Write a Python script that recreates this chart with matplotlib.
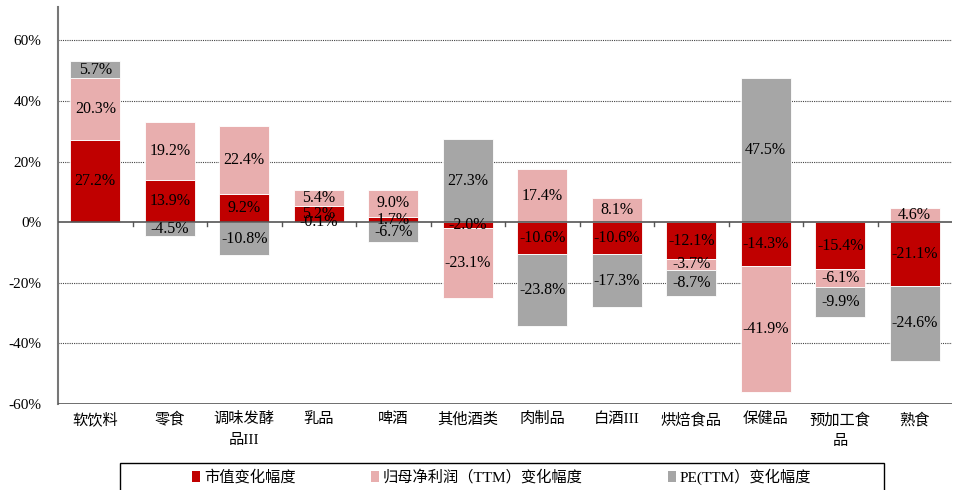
import matplotlib
matplotlib.use("Agg")
import matplotlib.pyplot as plt
from matplotlib.patches import Rectangle
import numpy as np

plt.rcParams['font.family'] = ['Liberation Serif', 'Noto Sans CJK SC', 'DejaVu Sans']

categories = ['软饮料', '零食', '调味发酵\n品III', '乳品', '啤酒', '其他酒类',
              '肉制品', '白酒III', '烘焙食品', '保健品', '预加工食\n品', '熟食']
mktcap_chg = [27.2, 13.9, 9.2, 5.2, 1.7, -2.0, -10.6, -10.6, -12.1, -14.3, -15.4, -21.1]
profit_chg = [20.3, 19.2, 22.4, 5.4, 9.0, -23.1, 17.4, 8.1, -3.7, -41.9, -6.1, 4.6]
pe_chg = [5.7, -4.5, -10.8, -0.1, -6.7, 27.3, -23.8, -17.3, -8.7, 47.5, -9.9, -24.6]

series_names = ['市值变化幅度', '归母净利润（TTM）变化幅度', 'PE(TTM）变化幅度']
series_colors = ['#C00000', '#E8AEAE', '#A6A6A6']
yticks = [-60, -40, -20, 0, 20, 40, 60]

W, H = 955, 490
fig = plt.figure(figsize=(W / 100, H / 100), dpi=100)
ax = fig.add_axes([58 / W, (H - 404) / H, (952 - 58) / W, (404 - 7) / H])

x = np.arange(len(categories))
pos_base = np.zeros(len(categories))
neg_base = np.zeros(len(categories))
width = 0.67

for vals, color in zip([mktcap_chg, profit_chg, pe_chg], series_colors):
    v = np.array(vals, dtype=float)
    bottoms = np.where(v >= 0, pos_base, neg_base)
    ax.bar(x, v, width=width, bottom=bottoms, color=color,
           edgecolor='white', linewidth=0.6, zorder=3)
    for xi, b, vi in zip(x, bottoms, v):
        ax.text(xi, b + vi / 2, f'{vi:.1f}%', ha='center', va='center',
                fontsize=11.5, color='black', zorder=5)
    pos_base = np.where(v >= 0, pos_base + v, pos_base)
    neg_base = np.where(v < 0, neg_base + v, neg_base)

ax.set_xlim(-0.5, len(categories) - 0.5)
ax.set_ylim(-60, 71)
ax.set_yticks(yticks)
ax.set_yticklabels([f'{t}%' for t in yticks], fontsize=11)
for t in yticks:
    if t not in (0, -60):
        ax.axhline(t, color='#444444', linestyle=(0, (1, 1)), linewidth=0.8, zorder=1)

ax.axhline(0, color='#555555', linewidth=1.2, zorder=4)
ax.axhline(-60, color='#555555', linewidth=1.2, zorder=4)
for b in np.arange(0.5, len(categories) - 0.5, 1.0):
    ax.plot([b, b], [0, -1.3], color='#555555', linewidth=1.0, zorder=4, clip_on=False)

for s in ['top', 'right', 'bottom']:
    ax.spines[s].set_visible(False)
ax.spines['left'].set_color('#777777')
ax.spines['left'].set_linewidth(1.5)
ax.tick_params(axis='y', length=0, pad=12)
ax.tick_params(axis='x', length=0, pad=6)
ax.set_xticks(x)
ax.set_xticklabels(categories, fontsize=11, linespacing=1.75, va='top')

# legend box, running past the lower edge of the figure
fig.patches.append(Rectangle((120 / W, -0.05), (884 - 120) / W, (H - 463) / H + 0.05,
                             transform=fig.transFigure, facecolor='white',
                             edgecolor='black', linewidth=1.0))
legend_x = [192, 371, 668]
for px, name, color in zip(legend_x, series_names, series_colors):
    fig.patches.append(Rectangle((px / W, (H - 482) / H), 8 / W, 11 / H,
                                 transform=fig.transFigure, facecolor=color,
                                 edgecolor='none'))
    fig.text((px + 12) / W, (H - 477) / H, name, fontsize=11, va='center', ha='left')

fig.savefig('out.png', dpi=100)
